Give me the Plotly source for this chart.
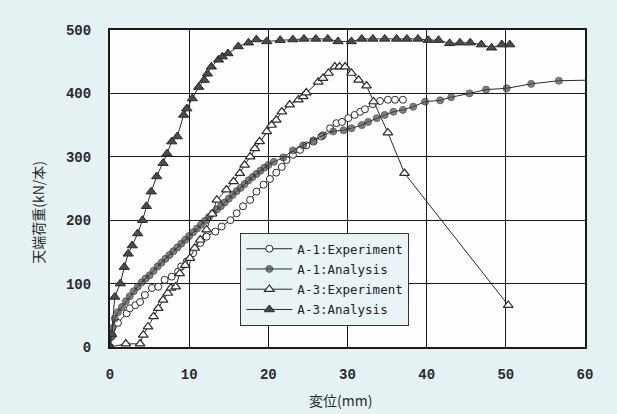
import plotly.graph_objects as go

# A-1 Experiment (open circles)
a1e_x = [0, 0.3, 1.0, 2.1, 2.5, 3.2, 3.8, 4.4, 5.3, 6.1, 6.9, 7.8, 8.6, 9.0, 9.7, 10.5, 11.4,
         12.2, 13.3, 14.1, 15.2, 16.0, 16.8, 17.7, 18.5, 19.4, 20.2, 21.0, 21.7, 22.3, 23.1,
         24.0, 24.8, 25.7, 26.7, 27.8, 28.6, 29.3, 30.1, 30.9, 31.6, 32.2, 33.2, 34.1, 35.1,
         36.0, 37.0]
a1e_y = [0, 18, 38, 53, 61, 66, 71, 82, 93, 95, 106, 111, 119, 127, 135, 148, 164,
         174, 182, 190, 200, 211, 222, 232, 245, 256, 265, 275, 284, 295, 303,
         311, 318, 324, 332, 345, 353, 355, 361, 366, 371, 375, 383, 388, 390,
         390, 390]

# A-1 Analysis (filled circles)
a1a_x = [0, 0.1, 0.3, 0.6, 1.0, 1.5, 2.0, 2.5, 3.0, 3.5, 4.0, 4.5, 5.0, 5.5, 6.0, 6.5, 7.0,
         7.5, 8.0, 8.5, 9.0, 9.5, 10.0, 10.5, 11.0, 11.5, 12.0, 12.5, 13.0, 13.5, 14.0, 14.5,
         15.0, 15.5, 16.0, 16.5, 17.0, 17.5, 18.0, 18.5, 19.0, 19.5, 20.0, 20.7, 21.9, 23.1,
         24.4, 25.7, 26.9, 28.2, 29.5, 30.5, 31.8, 32.6, 33.7, 34.7, 35.8, 37.0, 38.3, 39.8,
         41.7, 43.1, 45.4, 47.5, 50.1, 53.2, 56.7, 61.0]
a1a_y = [0, 15, 30, 45, 55, 63, 72, 80, 88, 95, 102, 108, 113, 120, 127, 133, 139,
         145, 151, 157, 163, 169, 175, 181, 187, 193, 199, 205, 211, 217, 222, 228,
         234, 240, 246, 251, 257, 263, 268, 273, 278, 283, 287, 292, 299, 310,
         318, 326, 334, 340, 342, 345, 350, 355, 361, 366, 371, 374, 379, 387,
         389, 394, 400, 406, 408, 415, 420, 421]

# A-3 Experiment (open triangles)
a3e_x = [0, 2.0, 3.8, 4.2, 4.8, 5.5, 6.1, 6.7, 7.3, 7.7, 8.3, 8.8, 9.5, 10.1, 10.7, 11.4,
         12.2, 12.9, 13.5, 14.7, 15.6, 16.4, 17.0, 17.7, 18.3, 18.9, 19.8, 20.4, 21.0, 21.7,
         22.7, 23.8, 24.4, 24.8, 26.3, 26.9, 27.6, 28.4, 29.0, 29.7, 30.5, 31.4, 32.4, 33.3,
         35.1, 37.2, 50.3]
a3e_y = [0, 5, 5, 19, 32, 48, 61, 74, 85, 93, 95, 116, 129, 140, 156, 169,
         185, 210, 232, 248, 261, 274, 287, 300, 313, 324, 340, 350, 358, 371,
         382, 390, 395, 401, 418, 424, 432, 442, 442, 442, 432, 421, 412, 387,
         338, 274, 66]

# A-3 Analysis (filled triangles)
a3a_x = [0, 0.2, 0.6, 1.3, 1.8, 2.3, 2.8, 3.5, 4.1, 4.6, 5.2, 5.9, 6.7, 7.2, 7.8, 8.5, 9.3,
         9.7, 10.4, 11.2, 11.9, 12.3, 12.8, 13.7, 14.2, 14.9, 16.2, 17.5, 18.5, 19.8, 21.5,
         23.1, 24.5, 26.0, 27.5, 28.8, 30.5, 31.8, 33.2, 34.7, 36.2, 37.5, 38.9, 40.2, 41.5,
         42.9, 44.2, 45.5, 46.9, 48.2, 49.5, 50.5]
a3a_y = [0, 20, 79, 100, 126, 147, 160, 179, 200, 222, 245, 269, 290, 305, 324, 332, 366,
         376, 392, 410, 421, 431, 442, 453, 458, 463, 474, 480, 485, 482, 484,
         485, 486, 486, 486, 482, 482, 486, 486, 486, 486, 486, 486, 484, 484,
         479, 480, 480, 477, 472, 477, 477]

names = ["A-1:Experiment", "A-1:Analysis", "A-3:Experiment", "A-3:Analysis"]

x_ticks = [0, 10, 20, 30, 40, 50, 60]
y_ticks = [0, 100, 200, 300, 400, 500]

LINE = "#2b2b2b"
FILL = "#4a4a4a"

fig = go.Figure()
fig.add_trace(go.Scatter(
    x=a1e_x, y=a1e_y, name=names[0], mode="lines+markers", legendgroup="g1",
    line=dict(color=LINE, width=1),
    marker=dict(symbol="circle", size=7, color="white", line=dict(color=LINE, width=1)),
))
fig.add_trace(go.Scatter(
    x=a1a_x, y=a1a_y, name=names[1], mode="lines+markers", legendgroup="g2",
    line=dict(color=LINE, width=1),
    marker=dict(symbol="circle", size=[7] * (len(a1a_x) - 1) + [0], color=FILL,
                line=dict(color=LINE, width=1)),
))
fig.add_trace(go.Scatter(
    x=a3e_x, y=a3e_y, name=names[2], mode="lines+markers", legendgroup="g3",
    line=dict(color=LINE, width=1),
    marker=dict(symbol="triangle-up", size=8.5, color="white", line=dict(color=LINE, width=1.2)),
))
fig.add_trace(go.Scatter(
    x=a3a_x, y=a3a_y, name=names[3], mode="lines+markers", legendgroup="g4",
    line=dict(color=LINE, width=1),
    marker=dict(symbol="triangle-up", size=9, color=FILL, line=dict(color=LINE, width=1)),
))

tick_font = dict(family="Liberation Mono", size=14, color="#2a2a2a", weight="bold")

fig.update_layout(
    width=617, height=414,
    margin=dict(l=110, r=32, t=30, b=67),
    paper_bgcolor="#e5f2f4",
    plot_bgcolor="#fefefe",
    showlegend=True,
    legend=dict(
        x=0.274, y=0.36, xanchor="left", yanchor="top",
        bgcolor="#e8f4f6", bordercolor="#333333", borderwidth=1.2,
        font=dict(family="DejaVu Sans Mono", size=12.5, color="#222222"),
        tracegroupgap=1, traceorder="grouped", itemwidth=46,
    ),
    xaxis=dict(
        range=[0, 60], tickvals=x_ticks, ticktext=[str(v) for v in x_ticks],
        showgrid=True, gridcolor="#1a1a1a", gridwidth=1.3,
        showline=True, linecolor="#1a1a1a", linewidth=2, mirror=True,
        zeroline=False, ticks="", tickfont=tick_font, ticklabelstandoff=13,
    ),
    yaxis=dict(
        range=[0, 500], tickvals=y_ticks, ticktext=[str(v) for v in y_ticks],
        showgrid=True, gridcolor="#1a1a1a", gridwidth=1.3,
        showline=True, linecolor="#1a1a1a", linewidth=2, mirror=True,
        zeroline=False, ticks="", tickfont=tick_font, ticklabelstandoff=14,
    ),
    annotations=[
        dict(text="天端荷重(kN/本)", xref="paper", yref="paper", x=-0.152, y=0.426,
             xanchor="center", yanchor="middle",
             textangle=-90, showarrow=False,
             font=dict(family="Noto Sans CJK JP", size=14, color="#2a2a2a")),
        dict(text="変位(mm)", xref="paper", yref="paper", x=0.486, y=-0.167,
             xanchor="center", yanchor="middle",
             showarrow=False,
             font=dict(family="Noto Sans CJK JP", size=14, color="#2a2a2a")),
    ],
)

fig.write_html("out.html")
